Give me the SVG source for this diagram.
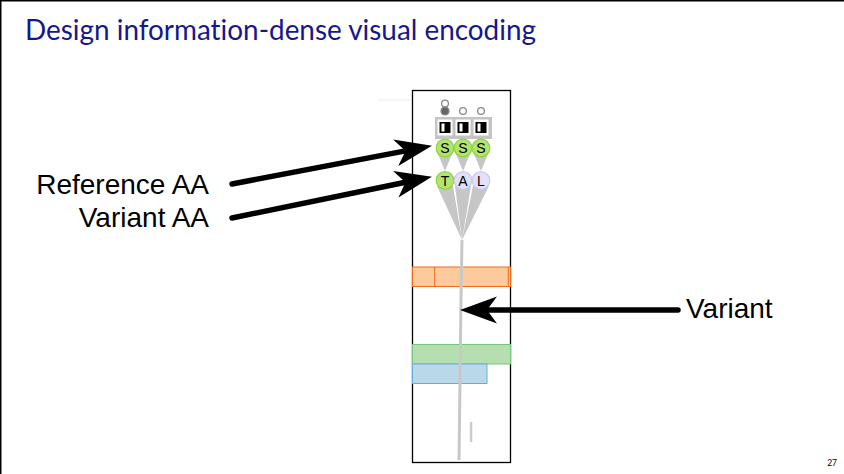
<svg xmlns="http://www.w3.org/2000/svg" width="844" height="474" viewBox="0 0 844 474">
<style>
.lbl{font-family:"Liberation Sans",Arial,sans-serif;font-size:28px;fill:#000}
.aa{font-family:"Liberation Sans",Arial,sans-serif;font-size:14px;fill:#000;text-anchor:middle}
.arrow{stroke:#000;stroke-width:5.5;fill:none;stroke-linecap:round}
.funnel{fill:#c6c6c6}
.sc{fill:#b3e56c;stroke:#8fd23f;stroke-width:1.2}
.lc{fill:#e1e1fa;stroke:#c9c9f2;stroke-width:1.2}
.top{fill:#fff;stroke:#8a8a8a;stroke-width:1.3}
</style>
<defs>
<marker id="head" markerUnits="userSpaceOnUse" markerWidth="38" markerHeight="30" viewBox="0 0 38 30" refX="10" refY="15" orient="auto">
<path d="M37,15 L0,1.5 L10,15 L0,28.5 Z" fill="#000"/>
</marker>
</defs>
<rect x="0" y="0" width="844" height="474" fill="#fff"/>
<rect x="0" y="0" width="844" height="1.5" fill="#000"/>
<rect x="0" y="0" width="1.5" height="474" fill="#000"/>
<text x="25" y="40" font-family="Lato,'Open Sans',sans-serif" font-size="28" fill="#16178f" style="font-variant-ligatures:none" textLength="511" lengthAdjust="spacingAndGlyphs">Design information-dense visual encoding</text>
<line x1="377" y1="100" x2="411" y2="100" stroke="#ececec" stroke-width="1"/>
<g id="panel">
<rect x="412.5" y="90.5" width="98" height="372" fill="#fff" stroke="#000" stroke-width="1.3"/>
<rect x="412.5" y="267" width="98" height="19.5" fill="#fdca9b" stroke="#f06a1c" stroke-width="1"/>
<line x1="434.7" y1="267" x2="434.7" y2="286.5" stroke="#f06a1c" stroke-width="1"/>
<line x1="508.3" y1="267" x2="508.3" y2="286.5" stroke="#f06a1c" stroke-width="1"/>
<rect x="412.5" y="344.5" width="98" height="19.5" fill="#b6dfb1" stroke="#79c47a" stroke-width="1"/>
<rect x="412.5" y="364" width="74.5" height="19.5" fill="#b9d8ea" stroke="#6aaed6" stroke-width="1"/>
<polyline points="462,240 461,300 459,460" fill="none" stroke="#c8c8c8" stroke-width="3"/>
<line x1="471" y1="422" x2="471" y2="442" stroke="#cccccc" stroke-width="2.5"/>
</g>
<g id="tracks">
<circle class="top" cx="445" cy="103.5" r="3.4"/>
<circle cx="445" cy="111" r="4" fill="#666" stroke="#8a8a8a" stroke-width="1.2"/>
<circle class="top" cx="463" cy="111" r="3.4"/>
<circle class="top" cx="481" cy="111" r="3.4"/>
<rect x="435" y="117" width="57" height="22" fill="#c4c4c4"/>
<g fill="#fff">
<rect x="437.5" y="119.5" width="15" height="16"/>
<rect x="455.5" y="119.5" width="15" height="16"/>
<rect x="473.5" y="119.5" width="15" height="16"/>
</g>
<g fill="#000">
<rect x="439.5" y="122" width="11" height="11"/>
<rect x="457.5" y="122" width="11" height="11"/>
<rect x="475.5" y="122" width="11" height="11"/>
</g>
<g fill="#fff">
<rect x="441.5" y="123.5" width="3" height="8"/>
<rect x="459.5" y="123.5" width="3" height="8"/>
<rect x="477.5" y="123.5" width="3" height="8"/>
</g>
<polygon class="funnel" points="438,154 452,154 445,171"/>
<polygon class="funnel" points="456,154 470,154 463,171"/>
<polygon class="funnel" points="474,154 488,154 481,171"/>
<polygon class="funnel" points="437,186 453,186 462,240"/>
<polygon class="funnel" points="455,186 471,186 462,240"/>
<polygon class="funnel" points="473,186 489,186 462,240"/>
</g>
<g id="reference-aa">
<circle class="sc" cx="445" cy="148" r="8.8"/>
<circle class="sc" cx="463" cy="148" r="8.8"/>
<circle class="sc" cx="481" cy="148" r="8.8"/>
<text class="aa" x="445" y="153">S</text>
<text class="aa" x="463" y="153">S</text>
<text class="aa" x="481" y="153">S</text>
</g>
<g id="variant-aa">
<circle class="sc" cx="445" cy="180.5" r="8.8"/>
<circle class="lc" cx="463" cy="180.5" r="8.8"/>
<circle class="lc" cx="481" cy="180.5" r="8.8"/>
<text class="aa" x="445" y="185.5">T</text>
<text class="aa" x="463" y="185.5">A</text>
<text class="aa" x="481" y="185.5">L</text>
</g>
<g id="label-reference"><text class="lbl" x="209" y="194" text-anchor="end">Reference AA</text></g>
<g id="label-variant-aa"><text class="lbl" x="209" y="227" text-anchor="end">Variant AA</text></g>
<g id="label-variant"><text class="lbl" x="686" y="318">Variant</text></g>
<g id="connectors">
<path class="arrow" d="M232,184 L405.5,150.9" marker-end="url(#head)"/>
<path class="arrow" d="M232,218 L405.5,182.2" marker-end="url(#head)"/>
<path class="arrow" d="M678,310 L487,310" marker-end="url(#head)"/>
</g>
<text x="837" y="466" font-family="Lato,'Open Sans',sans-serif" font-size="8.5" fill="#000" text-anchor="end">27</text>
</svg>
